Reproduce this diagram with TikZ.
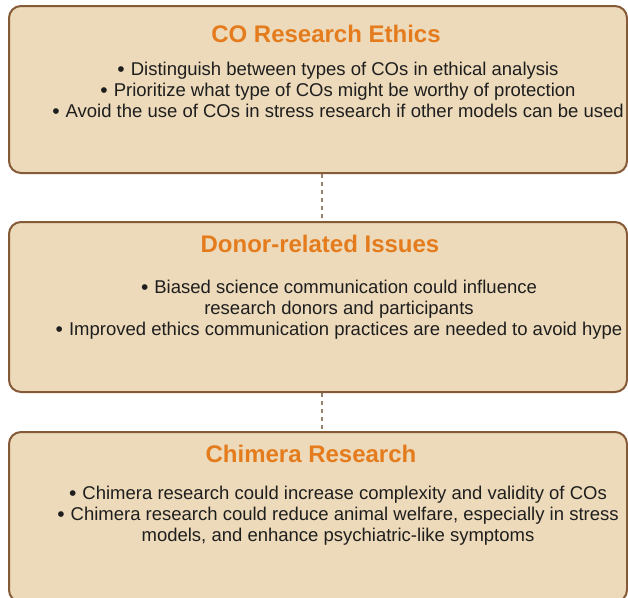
\documentclass[tikz,border=0pt]{standalone}
\usepackage{fontspec}
\setmainfont{Liberation Sans}
\usetikzlibrary{positioning}

\definecolor{panelfill}{RGB}{237,218,186}
\definecolor{panelline}{RGB}{133,90,55}
\definecolor{headcol}{RGB}{228,124,30}
\definecolor{linkcol}{RGB}{150,128,110}
\definecolor{bodycol}{RGB}{30,30,30}

% bullet with a wider gap after it
\newcommand{\itm}{\raisebox{-1pt}{\fontsize{21}{21}\selectfont\textbullet}\hspace{6pt}}

\begin{document}
\begin{tikzpicture}[x=1pt,y=1pt,
    panel/.style={draw=panelline, line width=2pt, fill=panelfill,
        rounded corners=12pt, minimum width=618pt, inner sep=0pt},
    head/.style={text=headcol, font=\fontsize{24}{28}\selectfont\bfseries, inner sep=0pt},
    body/.style={text=bodycol, align=center, inner sep=0pt,
        font=\fontsize{18.5}{21}\selectfont},
    link/.style={draw=linkcol, line width=2pt, dash pattern=on 4pt off 4pt}]
    \useasboundingbox (0,0) rectangle (628,-597);
    \clip (0,0) rectangle (628,-597);

    % the three panels
    \node[panel, minimum height=167pt] (ethics) at (318,-89.5) {};
    \node[panel, minimum height=170pt] (donor)  at (318,-307)  {};
    \node[panel, minimum height=170pt] (chimera) at (318,-517) {};

    % dotted links between them
    \draw[link] ([xshift=4pt]ethics.south) -- ([xshift=4pt]donor.north);
    \draw[link] ([xshift=4pt]donor.south) -- ([xshift=4pt]chimera.north);

    % panel 1
    \node[head] (ethicsHead) at (326,-34) {CO Research Ethics};
    \node[body] (ethicsText) at (338,-90) {%
        \itm Distinguish between types of COs in ethical analysis\\
        \itm Prioritize what type of COs might be worthy of protection\\
        \itm Avoid the use of COs in stress research if other models can be used};

    % panel 2
    \node[head] (donorHead) at (320,-244) {Donor-related Issues};
    \node[body] (donorText) at (339,-310) {%
        \itm Biased science communication could influence\\
        research donors and participants\\
        \itm Improved ethics communication practices are needed to avoid hype};

    % panel 3
    \node[head] (chimeraHead) at (311,-454) {Chimera Research};
    \node[body] (chimeraText) at (338,-516) {%
        \itm Chimera research could increase complexity and validity of COs\\
        \itm Chimera research could reduce animal welfare, especially in stress\\
        models, and enhance psychiatric-like symptoms};
\end{tikzpicture}
\end{document}
